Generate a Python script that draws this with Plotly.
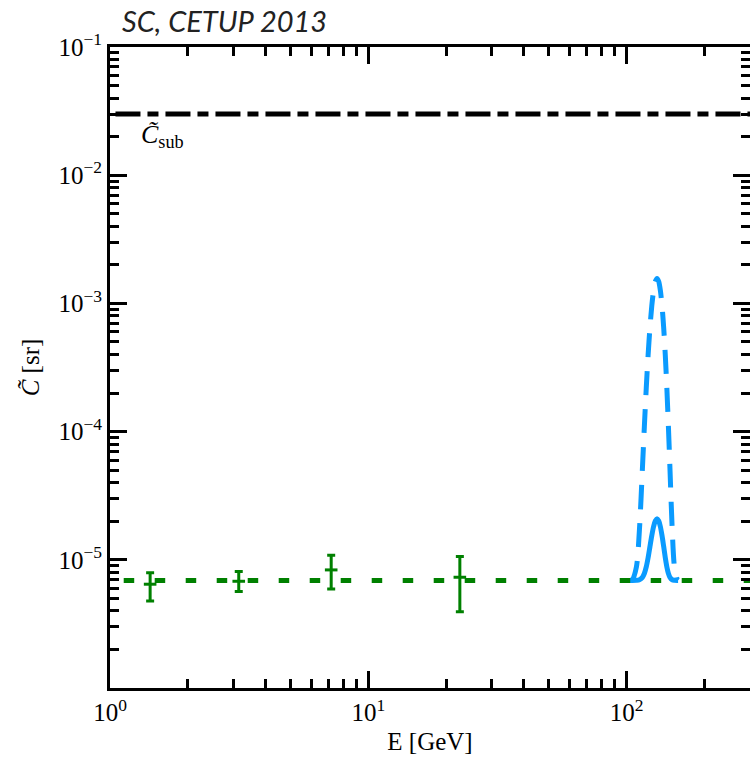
import math
import plotly.graph_objects as go

# ---------------- data ----------------
E_RANGE = [1.0, 300.0]
C_RANGE = [1e-6, 1e-1]

# C_sub level (black dash-dot)
SUB_E = [1.05, 300.0]
SUB_C = [0.03, 0.03]

# background level (green dashed)
BKG_E = [1.13, 300.0]
BKG_C = [6.9e-6, 6.9e-6]

# measured points with error bars
PTS_E = [1.43, 3.15, 7.18, 22.6]
PTS_C = [6.45e-6, 6.8e-6, 8.34e-6, 7.31e-6]
PTS_UP = [7.94e-6, 8.1e-6, 1.087e-5, 1.06e-5]
PTS_LO = [4.77e-6, 5.65e-6, 5.93e-6, 3.94e-6]

# line signal near 130 GeV
LINE_E = [101, 105, 109, 112, 115, 117, 119, 121, 123, 125, 127, 129, 131,
          133, 135, 137, 139, 141, 143, 145, 147, 150, 153, 157, 158]
LINE_DASHED = [6.9e-6, 7.0e-6, 8.8e-6, 1.73e-5, 5.15e-5, 1.09e-4, 2.18e-4,
               3.96e-4, 6.48e-4, 9.53e-4, 1.256e-3, 1.483e-3, 1.567e-3,
               1.483e-3, 1.256e-3, 9.53e-4, 6.48e-4, 3.96e-4, 2.18e-4,
               1.09e-4, 5.15e-5, 1.73e-5, 8.8e-6, 7.0e-6, 6.9e-6]
LINE_SOLID = [6.9e-6, 6.9e-6, 6.92e-6, 6.99e-6, 7.3e-6, 7.82e-6, 8.8e-6,
              1.04e-5, 1.27e-5, 1.54e-5, 1.81e-5, 2.01e-5, 2.09e-5,
              2.01e-5, 1.81e-5, 1.54e-5, 1.27e-5, 1.04e-5, 8.8e-6,
              7.82e-6, 7.3e-6, 6.99e-6, 6.92e-6, 6.9e-6, 6.9e-6]

X_TICKS = [1, 10, 100]
X_TICKTEXT = ["10<sup>0</sup>", "10<sup>1</sup>", "10<sup>2</sup>"]
Y_TICKS = [1e-5, 1e-4, 1e-3, 1e-2, 1e-1]
Y_TICKTEXT = ["10<sup>\u22125</sup>", "10<sup>\u22124</sup>", "10<sup>\u22123</sup>",
              "10<sup>\u22122</sup>", "10<sup>\u22121</sup>"]

TITLE = "SC, CETUP 2013"
X_LABEL = "E [GeV]"
Y_LABEL = "<i>C\u0303</i> [sr]"
SUB_LABEL = "<i>C\u0303</i><sub>sub</sub>"

# ---------------- style ----------------
GREEN = "#008000"
BLUE = "#0a9bff"
SERIF = "Liberation Serif"

x_minor = [m * 10 ** k for k in range(0, 3) for m in range(2, 10) if m * 10 ** k <= 300]
y_minor = [m * 10.0 ** k for k in range(-6, -1) for m in range(2, 10)]

fig = go.Figure()

fig.add_trace(go.Scatter(x=LINE_E, y=LINE_DASHED, mode="lines",
                         line=dict(color=BLUE, width=5, dash="24px,14px", shape="spline", smoothing=0.8),
                         hoverinfo="skip", showlegend=False))
fig.add_trace(go.Scatter(x=LINE_E, y=LINE_SOLID, mode="lines",
                         line=dict(color=BLUE, width=5, shape="spline", smoothing=0.8),
                         hoverinfo="skip", showlegend=False))
fig.add_trace(go.Scatter(x=BKG_E, y=BKG_C, mode="lines",
                         line=dict(color=GREEN, width=5, dash="10.5px,20.5px"),
                         hoverinfo="skip", showlegend=False))
fig.add_trace(go.Scatter(x=SUB_E, y=SUB_C, mode="lines",
                         line=dict(color="black", width=5, dash="25px,7px,11px,7px"),
                         hoverinfo="skip", showlegend=False))
fig.add_trace(go.Scatter(
    x=PTS_E, y=PTS_C, mode="markers",
    marker=dict(symbol="line-ew", size=9, color=GREEN, line=dict(color=GREEN, width=3)),
    error_y=dict(type="data", symmetric=False,
                 array=[u - c for u, c in zip(PTS_UP, PTS_C)],
                 arrayminus=[c - l for c, l in zip(PTS_C, PTS_LO)],
                 color=GREEN, thickness=3, width=4),
    hoverinfo="skip", showlegend=False))
# invisible trace to carry the right-hand tick axis
fig.add_trace(go.Scatter(x=SUB_E, y=SUB_C, yaxis="y2", mode="markers",
                         marker=dict(opacity=0), hoverinfo="skip", showlegend=False))

xr = [math.log10(E_RANGE[0]), math.log10(E_RANGE[1])]
yr = [math.log10(C_RANGE[0]), math.log10(C_RANGE[1])]

tickfont = dict(family=SERIF, size=25, color="black")

fig.update_layout(
    width=750, height=758,
    margin=dict(l=110, r=0, t=47, b=70),
    paper_bgcolor="white", plot_bgcolor="white",
    xaxis=dict(type="log", range=xr, showgrid=False, zeroline=False,
               showline=True, linecolor="black", linewidth=3, mirror="ticks",
               ticks="inside", ticklen=17, tickwidth=2.5, tickcolor="black",
               tickmode="array", tickvals=X_TICKS, ticktext=X_TICKTEXT,
               tickfont=tickfont,
               minor=dict(ticks="inside", ticklen=9, tickwidth=2.5, tickcolor="black",
                          tickmode="array", tickvals=x_minor, showgrid=False),
               title=dict(text=X_LABEL, font=dict(family=SERIF, size=25, color="black"), standoff=8)),
    yaxis=dict(type="log", range=yr, showgrid=False, zeroline=False,
               showline=True, linecolor="black", linewidth=3, mirror=False,
               ticks="inside", ticklen=17, tickwidth=2.5, tickcolor="black",
               tickmode="array", tickvals=Y_TICKS, ticktext=Y_TICKTEXT,
               tickfont=tickfont,
               minor=dict(ticks="inside", ticklen=9, tickwidth=2.5, tickcolor="black",
                          tickmode="array", tickvals=y_minor, showgrid=False),
               title=dict(text=Y_LABEL, font=dict(family=SERIF, size=25, color="black"), standoff=12)),
    yaxis2=dict(type="log", range=yr, overlaying="y", side="right", anchor="x",
                showgrid=False, zeroline=False, showline=False, showticklabels=False,
                ticks="inside", ticklen=17, tickwidth=2.5, tickcolor="black",
                tickmode="array", tickvals=Y_TICKS,
                minor=dict(ticks="inside", ticklen=9, tickwidth=2.5, tickcolor="black",
                           tickmode="array", tickvals=y_minor, showgrid=False)),
)

fig.add_annotation(text="<i>" + TITLE + "</i>", xref="paper", yref="paper", x=0.0156, y=1.041,
                   xanchor="left", yanchor="middle", showarrow=False,
                   font=dict(family="Lato", size=29, color="#222222"))
fig.add_annotation(text=SUB_LABEL, xref="x", yref="y", x=math.log10(1.3), y=math.log10(0.0202),
                   xanchor="left", yanchor="middle", showarrow=False,
                   font=dict(family=SERIF, size=26, color="black"))

fig.write_html("out.html",
               config={"displayModeBar": False},
               post_script="document.body.style.margin='0';document.body.style.overflow='hidden';")
